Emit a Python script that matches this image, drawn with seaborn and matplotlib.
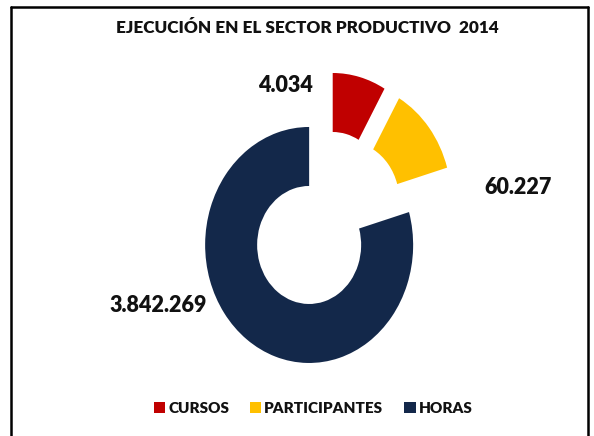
import matplotlib
matplotlib.use('Agg')
import matplotlib.pyplot as plt
from matplotlib.lines import Line2D
import seaborn as sns

# datos
categorias = ['CURSOS', 'PARTICIPANTES', 'HORAS']
valores_texto = ['4.034', '60.227', '3.842.269']
# porcentaje del anillo que ocupa cada sector
proporcion = [8.3, 12.2, 79.5]
colores = ['#C00000', '#FFC000', '#13284A']
separacion = [0.25, 0.26, 0.27]

sns.set_theme(style='white')
plt.rcParams['font.family'] = ['Lato', 'DejaVu Sans']
peso = 'heavy'

fig = plt.figure(figsize=(5.94, 4.36), dpi=100)
ax = fig.add_axes([0, 0, 1, 1])

wedges, _ = ax.pie(
    proporcion,
    colors=colores,
    explode=separacion,
    startangle=90,
    counterclock=False,
    wedgeprops=dict(width=0.5, edgecolor='none'),
)
ax.set_aspect('auto')
ax.set_xlim(-326 / 104, (594 - 326) / 104)
ax.set_ylim(-(436 - 219.5) / 118, 219.5 / 118)
ax.axis('off')

fig.text(0.517, 0.936, 'EJECUCIÓN EN EL SECTOR PRODUCTIVO  2014',
         ha='center', va='center', fontsize=12.3, fontweight=peso, color='#111111')

pos_texto = [(0.48, 0.803), (0.872, 0.569), (0.266, 0.30)]
for txt, (x, y) in zip(valores_texto, pos_texto):
    fig.text(x, y, txt, ha='center', va='center', fontsize=15.5,
             fontweight=peso, color='#111111')

leg = fig.legend(
    wedges, categorias,
    loc='center', bbox_to_anchor=(0.527, 0.064),
    ncol=3, frameon=False,
    handlelength=0.75, handleheight=0.75, handletextpad=0.2,
    columnspacing=1.35,
    prop=dict(size=11, weight=peso),
)
for t in leg.get_texts():
    t.set_color('#111111')

# marco
for xs, ys in [([0.018, 0.018], [0, 0.983]), ([0.018, 0.99], [0.983, 0.983]),
               ([0.99, 0.99], [0.983, 0])]:
    fig.add_artist(Line2D(xs, ys, color='black', lw=1.8, transform=fig.transFigure))

fig.savefig('out.png', dpi=100)
